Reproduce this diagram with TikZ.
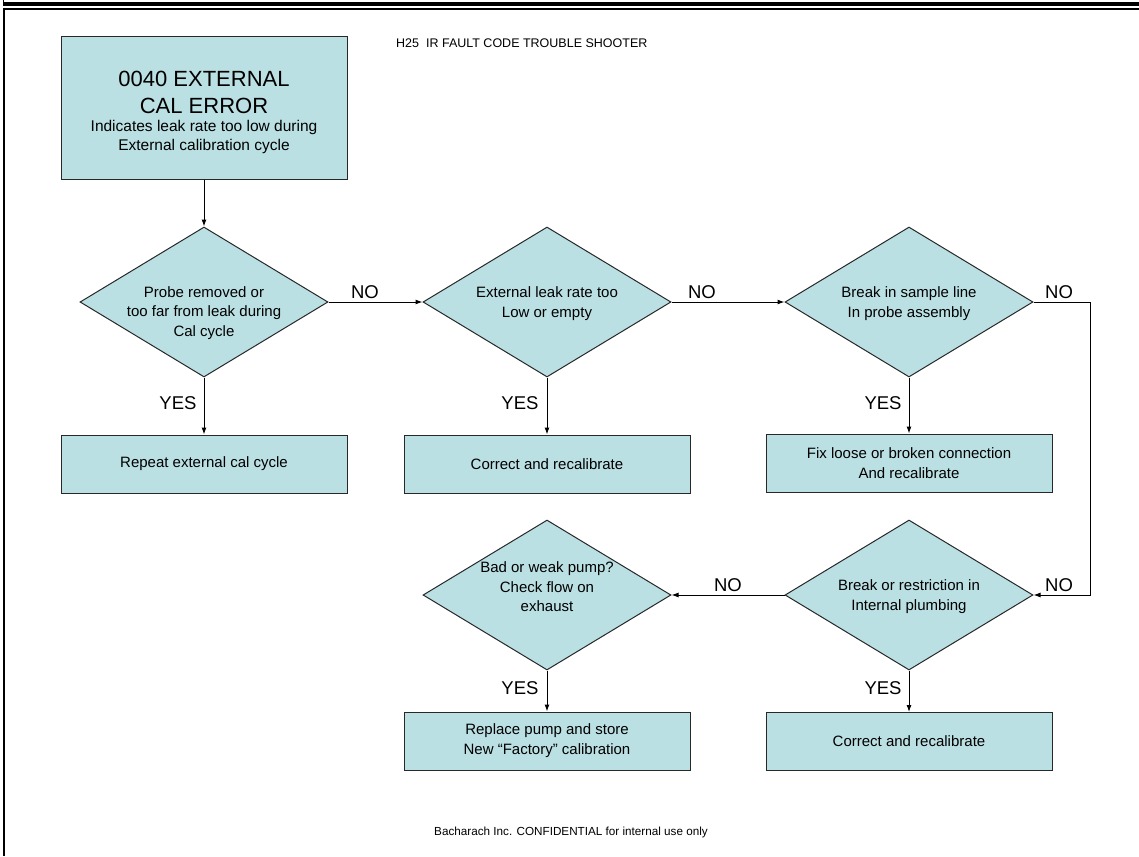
\documentclass[tikz,border=0pt]{standalone}
\usepackage{fontspec}
\setmainfont{Liberation Sans}
\usetikzlibrary{shapes.geometric,arrows.meta}
\definecolor{boxfill}{RGB}{187,224,227}
\definecolor{edge}{RGB}{40,40,40}
\newcommand\fsz[2]{\fontsize{#1}{#2}\selectfont}
\begin{document}
\begin{tikzpicture}[x=1pt,y=-1pt,
  box/.style={draw=edge, fill=boxfill, line width=1pt, minimum width=286pt, minimum height=58pt, inner sep=0pt},
  startbox/.style={box, minimum height=142pt},
  dia/.style={draw=edge, fill=boxfill, line width=1pt, diamond, minimum width=248pt, minimum height=150pt, inner sep=0pt},
  txt/.style={align=center, font=\fsz{15}{19.5}, inner sep=0pt},
  lbl/.style={font=\fsz{18.5}{22}, inner sep=0pt},
  arr/.style={-{Latex[length=7pt,width=5pt]}, line width=1pt},
  frame/.style={line width=#1, black}
]
\useasboundingbox (0,0) rectangle (1139,856);
% page frame
\draw[frame=4pt] (3,4.5) -- (1139,4.5);
\draw[frame=1.2pt] (3.5,0) -- (3.5,5);
\draw[frame=2.5pt] (3,9) -- (1139,9);
\draw[frame=2.5pt] (4,7.8) -- (4,856);
% header / footer
\node[anchor=west, font=\fsz{12.5}{15}, inner sep=0pt] (hdr) at (396,43) {H25\ \ IR FAULT CODE TROUBLE SHOOTER};
\node[font=\fsz{11.7}{14}, inner sep=0pt] (ftr) at (571,832) {Bacharach Inc. CONFIDENTIAL for internal use only};
% start box
\node[startbox] (start) at (204,108) {};
\node[align=center, font=\fsz{22}{27}, inner sep=0pt] (t1) at (204,92) {0040 EXTERNAL\\CAL ERROR};
\node[align=center, font=\fsz{15.5}{19}, inner sep=0pt] (t2) at (204,137) {Indicates leak rate too low during\\External calibration cycle};
% diamonds
\node[dia] (d1) at (204,302) {};
\node[txt] at (204,313) {Probe removed or\\too far from leak during\\Cal cycle};
\node[dia] (d2) at (547,302) {};
\node[txt] at (547,303.5) {External leak rate too\\Low or empty};
\node[dia] (d3) at (909,302) {};
\node[txt] at (909,303.5) {Break in sample line\\In probe assembly};
\node[dia] (d4) at (909,595) {};
\node[txt] at (909,596.5) {Break or restriction in\\Internal plumbing};
\node[dia] (d5) at (547,595) {};
\node[txt] at (547,587) {Bad or weak pump?\\Check flow on\\exhaust};
% boxes
\node[box, font=\fsz{15}{20}, align=center] (b1) at (204,464) {Repeat external cal cycle};
\node[box, font=\fsz{15}{20}, align=center] (b2) at (547,464) {Correct and recalibrate};
\node[box, font=\fsz{15}{20}, align=center] (b3) at (909,463) {Fix loose or broken connection\\And recalibrate};
\node[box, font=\fsz{15}{20}, align=center] (b4) at (909,741.5) {Correct and recalibrate};
\node[box, font=\fsz{15}{20}, align=center] (b5) at (547,741) {Replace pump and store\\New “Factory” calibration};
% connectors
\coordinate (rr) at (1090,302);
\draw[arr] (start.south) -- (d1.north);
\draw[arr] (d1.east) -- (d2.west);
\draw[arr] (d2.east) -- (d3.west);
\draw[arr] (d1.south) -- (b1.north);
\draw[arr] (d2.south) -- (b2.north);
\draw[arr] (d3.south) -- (b3.north);
\draw[arr] (d3.east) -- (rr) |- (d4.east);
\draw[arr] (d4.west) -- (d5.east);
\draw[arr] (d4.south) -- (b4.north);
\draw[arr] (d5.south) -- (b5.north);
% labels
\node[lbl] (n1) at (365,292) {NO};
\node[lbl] (n2) at (702,292) {NO};
\node[lbl] (n3) at (1059,292) {NO};
\node[lbl] (n4) at (1059,585) {NO};
\node[lbl] (n5) at (728,585) {NO};
\node[lbl] (y1) at (178,403) {YES};
\node[lbl] (y2) at (520,403) {YES};
\node[lbl] (y3) at (883,403) {YES};
\node[lbl] (y4) at (883,688) {YES};
\node[lbl] (y5) at (520,688) {YES};
\end{tikzpicture}
\end{document}
